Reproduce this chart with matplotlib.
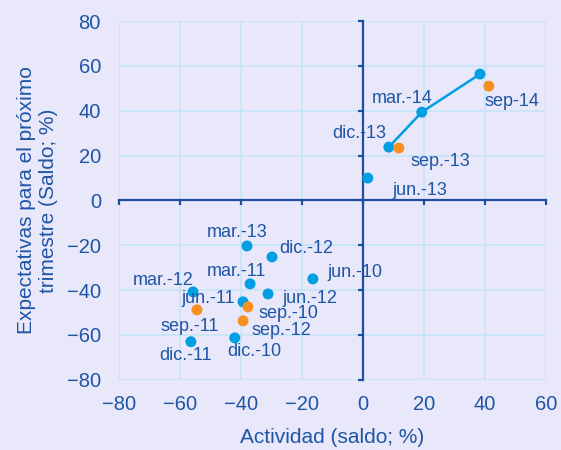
import matplotlib
matplotlib.use("Agg")
import matplotlib.pyplot as plt

# Datos: actividad (x) y expectativas (y), saldos en %
blue_labels = ["jun.-10", "dic.-10", "mar.-11", "jun.-11", "dic.-11", "mar.-12",
               "jun.-12", "dic.-12", "mar.-13", "jun.-13", "dic.-13", "mar.-14", ""]
blue_x = [-16.4, -42.0, -37.0, -39.3, -56.4, -55.7, -31.1, -29.8, -38.0, 1.6, 8.5, 19.3, 38.4]
blue_y = [-35.0, -61.3, -37.2, -45.2, -63.0, -40.8, -41.7, -25.2, -20.3, 10.0, 23.8, 39.4, 56.4]

orange_labels = ["sep.-10", "sep.-11", "sep.-12", "sep.-13", "sep-14"]
orange_x = [-37.7, -54.4, -39.3, 11.8, 41.3]
orange_y = [-47.5, -48.8, -53.7, 23.4, 51.0]

# trayectoria reciente (dic.-13 -> jun.-14)
line_x = blue_x[-3:]
line_y = blue_y[-3:]

# offsets de etiquetas (pixeles)
blue_off = [(42, 6), (20, -14), (-14, 12), (-35, 3), (-5, -14), (-30, 11),
            (42, -5), (34, 8), (-10, 13), (52, -12), (-30, 14), (-20, 14), (0, 0)]
orange_off = [(41, -7), (-7, -17), (38, -10), (42, -13), (23, -15)]

BG = "#E8E8FA"
BLUE = "#009FE3"
ORANGE = "#F7901E"
TXT = "#1F55A5"
AXC = "#1F4E9C"
GRID = "#C2E4F8"

plt.rcParams["font.family"] = ["Liberation Sans", "DejaVu Sans"]

fig = plt.figure(figsize=(5.61, 4.5), dpi=100, facecolor=BG)
ax = fig.add_axes([0.212, 0.156, 0.761, 0.797])
ax.set_facecolor(BG)

ax.set_xlim(-80, 60)
ax.set_ylim(-80, 80)
ticks_x = list(range(-80, 61, 20))
ticks_y = list(range(-80, 81, 20))
ax.set_xticks(ticks_x)
ax.set_yticks(ticks_y)
ax.grid(True, color=GRID, linewidth=1.1, zorder=0)
ax.set_axisbelow(True)

# ejes cruzando en cero
for side in ["top", "right"]:
    ax.spines[side].set_visible(False)
ax.spines["left"].set_position(("data", 0))
ax.spines["bottom"].set_position(("data", 0))
for side in ["left", "bottom"]:
    ax.spines[side].set_color(AXC)
    ax.spines[side].set_linewidth(1.6)
    ax.spines[side].set_zorder(2)
ax.tick_params(axis="both", direction="out", length=3.5, width=1.6, color=AXC,
               labelleft=False, labelbottom=False)

# etiquetas de ticks en el borde
secx = ax.secondary_xaxis("bottom")
secx.set_xticks(ticks_x)
secx.tick_params(length=0, labelsize=14.5, labelcolor=TXT, pad=11)
secx.spines["bottom"].set_visible(False)
secx.set_xlabel("Actividad (saldo; %)", fontsize=15, color=TXT, labelpad=10)

secy = ax.secondary_yaxis("left")
secy.set_yticks(ticks_y)
secy.tick_params(length=0, labelsize=14.5, labelcolor=TXT, pad=13)
secy.spines["left"].set_visible(False)
secy.set_ylabel("Expectativas para el próximo\ntrimestre (Saldo; %)",
                fontsize=15, color=TXT, labelpad=6, linespacing=1.25)

ax.plot(line_x, line_y, color=BLUE, linewidth=1.8, zorder=3)
ax.scatter(blue_x, blue_y, s=62, color=BLUE, edgecolors="none", zorder=4)
ax.scatter(orange_x, orange_y, s=62, color=ORANGE, edgecolors="none", zorder=4)

for lab, x, y, off in zip(blue_labels + orange_labels, blue_x + orange_x,
                          blue_y + orange_y, blue_off + orange_off):
    if lab:
        ax.annotate(lab, (x, y), xytext=off, textcoords="offset pixels",
                    ha="center", va="center", fontsize=13, color=TXT, zorder=5)

fig.savefig("out.png", dpi=100, facecolor=BG)
